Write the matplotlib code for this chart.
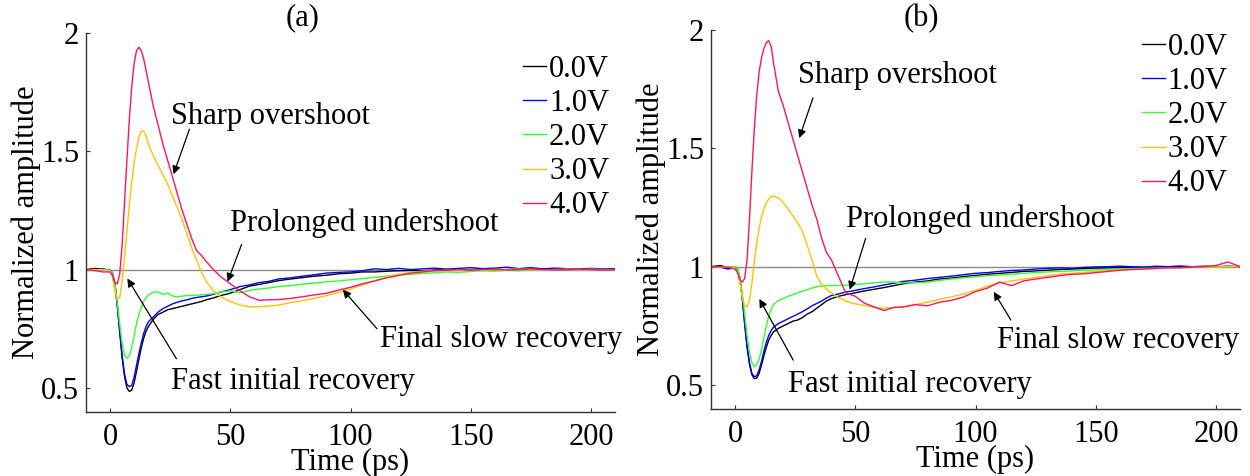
#!/usr/bin/env python3
"""Pump-probe transients at several bias voltages, panels (a) and (b)."""

import matplotlib
matplotlib.use("Agg")
import matplotlib.pyplot as plt

plt.rcParams["font.family"] = ["Liberation Serif", "DejaVu Serif"]
plt.rcParams["font.size"] = 22

# shared time grid (ps)
time_ps = [-10, -6, -3, 0, 1, 2, 3, 4, 5, 6, 7, 8, 9, 10, 11, 12, 13, 14, 15, 16,
           18, 20, 22, 24, 26, 28, 30, 32, 34, 36, 38, 40, 43, 46, 50, 54, 58, 62,
           66, 70, 75, 80, 85, 90, 95, 100, 105, 110, 115, 120, 125, 130, 135, 140,
           145, 150, 155, 160, 165, 170, 175, 180, 185, 190, 195, 200, 205, 210]

labels = ["0.0V", "1.0V", "2.0V", "3.0V", "4.0V"]
colors = ["#000000", "#0000ff", "#33ff33", "#ffc400", "#ff1466"]

# ---- panel (a) ----
a_0v = [1.0, 1.005, 1.0, 0.998, 0.985, 0.94, 0.85, 0.74, 0.63, 0.55, 0.50, 0.485, 0.49, 0.52,
        0.57, 0.62, 0.67, 0.71, 0.74, 0.76, 0.79, 0.81, 0.82, 0.83, 0.835, 0.84, 0.845, 0.85,
        0.855, 0.86, 0.865, 0.872, 0.88, 0.89, 0.90, 0.915, 0.93, 0.937, 0.945, 0.953, 0.96,
        0.966, 0.972, 0.976, 0.982, 0.985, 0.99, 0.99, 0.993, 0.995, 0.996, 0.995, 0.998, 1.0,
        0.997, 1.0, 1.002, 0.998, 1.0, 1.002, 1.0, 1.003, 1.0, 1.002, 1.0, 1.003, 1.0, 1.002]
a_1v = [1.0, 1.0, 1.003, 0.998, 0.985, 0.94, 0.85, 0.74, 0.64, 0.56, 0.515, 0.505, 0.51, 0.545,
        0.595, 0.645, 0.69, 0.73, 0.76, 0.78, 0.80, 0.82, 0.835, 0.845, 0.855, 0.862, 0.868,
        0.872, 0.878, 0.882, 0.885, 0.888, 0.895, 0.905, 0.915, 0.928, 0.935, 0.945, 0.95, 0.96,
        0.965, 0.972, 0.978, 0.985, 0.988, 0.99, 0.995, 1.003, 1.0, 1.005, 1.0, 1.003, 1.006,
        1.002, 1.005, 1.008, 1.004, 1.006, 1.01, 1.004, 1.008, 1.003, 1.006, 1.004, 1.002,
        1.005, 1.003, 1.004]
a_2v = [1.0, 0.998, 1.0, 0.998, 0.985, 0.94, 0.86, 0.77, 0.69, 0.64, 0.625, 0.635, 0.67, 0.72,
        0.77, 0.81, 0.84, 0.865, 0.88, 0.893, 0.905, 0.905, 0.895, 0.90, 0.888, 0.885, 0.888,
        0.89, 0.89, 0.892, 0.893, 0.895, 0.898, 0.905, 0.91, 0.902, 0.912, 0.918, 0.922, 0.928,
        0.932, 0.938, 0.943, 0.948, 0.952, 0.957, 0.962, 0.967, 0.972, 0.978, 0.98, 0.984,
        0.986, 0.99, 0.988, 0.992, 0.995, 0.993, 0.997, 0.995, 0.998, 1.0, 0.997, 1.0, 0.998,
        1.002, 1.0, 1.0]
a_3v = [1.0, 1.0, 0.998, 0.995, 0.97, 0.91, 0.875, 0.88, 0.95, 1.05, 1.16, 1.27, 1.37, 1.45,
        1.51, 1.56, 1.585, 1.585, 1.565, 1.53, 1.48, 1.44, 1.40, 1.36, 1.31, 1.26, 1.21, 1.15,
        1.09, 1.04, 0.99, 0.95, 0.91, 0.885, 0.865, 0.85, 0.842, 0.843, 0.846, 0.85, 0.86,
        0.868, 0.878, 0.89, 0.903, 0.918, 0.935, 0.952, 0.968, 0.98, 0.988, 0.993, 0.995,
        0.997, 0.995, 0.998, 1.0, 0.998, 1.0, 1.002, 1.0, 0.998, 1.0, 1.002, 1.0, 0.998, 1.0, 1.0]
a_4v = [1.0, 0.995, 0.99, 0.99, 0.975, 0.945, 0.94, 0.98, 1.10, 1.28, 1.46, 1.63, 1.77, 1.87,
        1.925, 1.94, 1.925, 1.89, 1.84, 1.79, 1.69, 1.61, 1.53, 1.46, 1.39, 1.32, 1.25, 1.19,
        1.13, 1.08, 1.06, 1.034, 1.0, 0.97, 0.94, 0.91, 0.885, 0.87, 0.872, 0.873, 0.878,
        0.885, 0.893, 0.90, 0.913, 0.925, 0.94, 0.952, 0.965, 0.975, 0.985, 0.99, 0.995, 0.997,
        1.0, 0.997, 1.0, 1.002, 0.998, 1.0, 1.003, 1.0, 0.998, 1.0, 1.002, 1.0, 0.998, 1.0]

# ---- panel (b) ----
b_0v = [1.0, 1.005, 0.995, 0.998, 0.99, 0.95, 0.87, 0.76, 0.66, 0.59, 0.545, 0.528, 0.53, 0.55,
        0.585, 0.625, 0.66, 0.69, 0.71, 0.725, 0.74, 0.75, 0.76, 0.77, 0.775, 0.785, 0.80,
        0.81, 0.825, 0.84, 0.855, 0.865, 0.875, 0.882, 0.89, 0.898, 0.905, 0.912, 0.92, 0.928,
        0.935, 0.94, 0.948, 0.952, 0.958, 0.963, 0.968, 0.972, 0.976, 0.98, 0.982, 0.985,
        0.988, 0.99, 0.992, 0.994, 0.995, 0.996, 0.997, 0.998, 0.997, 0.999, 1.0, 0.998, 1.0,
        1.0, 1.0, 1.0]
b_1v = [1.0, 0.998, 0.99, 0.995, 0.99, 0.95, 0.87, 0.76, 0.665, 0.595, 0.55, 0.536, 0.54,
        0.565, 0.60, 0.645, 0.68, 0.71, 0.73, 0.745, 0.76, 0.77, 0.78, 0.79, 0.80, 0.81, 0.822,
        0.835, 0.845, 0.855, 0.868, 0.878, 0.885, 0.893, 0.90, 0.908, 0.915, 0.923, 0.93,
        0.938, 0.943, 0.95, 0.955, 0.96, 0.966, 0.972, 0.975, 0.98, 0.984, 0.986, 0.99, 0.993,
        0.995, 0.993, 0.997, 0.999, 1.0, 1.002, 1.0, 0.998, 1.002, 1.0, 1.003, 1.0, 1.002, 1.0,
        1.002, 1.0]
b_2v = [1.0, 0.998, 1.0, 1.0, 0.995, 0.96, 0.89, 0.80, 0.71, 0.64, 0.595, 0.578, 0.585, 0.61,
        0.65, 0.70, 0.75, 0.79, 0.82, 0.84, 0.858, 0.865, 0.875, 0.882, 0.89, 0.897, 0.903,
        0.91, 0.915, 0.918, 0.92, 0.92, 0.921, 0.922, 0.925, 0.928, 0.932, 0.936, 0.935, 0.932,
        0.932, 0.935, 0.942, 0.948, 0.953, 0.958, 0.962, 0.965, 0.968, 0.972, 0.975, 0.978,
        0.98, 0.982, 0.985, 0.986, 0.988, 0.99, 0.992, 0.993, 0.994, 0.995, 0.996, 0.997, 0.998,
        0.998, 0.999, 1.0]
b_3v = [1.0, 1.0, 0.998, 0.995, 0.98, 0.93, 0.87, 0.835, 0.83, 0.86, 0.93, 1.02, 1.10, 1.16,
        1.21, 1.245, 1.27, 1.285, 1.295, 1.298, 1.29, 1.27, 1.245, 1.215, 1.185, 1.15, 1.09,
        1.03, 0.96, 0.925, 0.905, 0.89, 0.87, 0.855, 0.843, 0.835, 0.828, 0.825, 0.828, 0.832,
        0.84, 0.85, 0.862, 0.873, 0.885, 0.90, 0.918, 0.932, 0.94, 0.948, 0.955, 0.962, 0.968,
        0.972, 0.976, 0.98, 0.983, 0.986, 0.988, 0.99, 0.992, 0.994, 0.995, 0.997, 0.998,
        0.999, 1.0, 1.0]
b_4v = [1.0, 1.0, 0.998, 0.99, 0.975, 0.945, 0.935, 0.95, 1.03, 1.20, 1.40, 1.58, 1.72, 1.82,
        1.88, 1.92, 1.945, 1.953, 1.93, 1.86, 1.74, 1.68, 1.61, 1.54, 1.47, 1.40, 1.33, 1.26,
        1.20, 1.12, 1.06, 1.03, 0.96, 0.89, 0.875, 0.845, 0.83, 0.815, 0.828, 0.83, 0.84, 0.835,
        0.85, 0.858, 0.872, 0.895, 0.91, 0.935, 0.92, 0.94, 0.948, 0.955, 0.962, 0.968, 0.97,
        0.975, 0.98, 0.985, 0.988, 0.99, 0.993, 0.995, 0.996, 0.998, 1.0, 1.005, 1.02, 1.0]

panels = [
    {
        "rect": [0.0688, 0.1355, 0.4232, 0.7952],
        "title": "(a)",
        "title_xy": (0.2424, 0.962),
        "legend_anchor": (1.012, 0.975),
        "series": [a_0v, a_1v, a_2v, a_3v, a_4v],
        # (text, text xy, arrow tail xy, arrow head xy)
        "notes": [
            ("Sharp overshoot", (25.5, 1.648), (33.0, 1.593), (26.4, 1.403)),
            ("Prolonged undershoot", (49.7, 1.195), (54.7, 1.106), (48.9, 0.949)),
            ("Final slow recovery", (112.2, 0.703), (111.0, 0.75), (96.8, 0.915)),
            ("Fast initial recovery", (25.5, 0.525), (27.6, 0.623), (7.2, 0.962)),
        ],
    },
    {
        "rect": [0.5688, 0.1408, 0.4232, 0.7972],
        "title": "(b)",
        "title_xy": (0.7368, 0.962),
        "legend_anchor": (1.0, 1.024),
        "series": [b_0v, b_1v, b_2v, b_3v, b_4v],
        "notes": [
            ("Sharp overshoot", (26.2, 1.805), (32.4, 1.712), (26.7, 1.542)),
            ("Prolonged undershoot", (46.1, 1.20), (54.3, 1.119), (47.7, 0.903)),
            ("Final slow recovery", (108.9, 0.69), (114.7, 0.775), (107.6, 0.894)),
            ("Fast initial recovery", (22.1, 0.504), (24.2, 0.606), (10.1, 0.864)),
        ],
    },
]

fig = plt.figure(figsize=(12.5, 4.76), dpi=100)

for p in panels:
    ax = fig.add_axes(p["rect"])
    ax.axhline(1.0, color="#8c8c8c", lw=1.0, zorder=1)
    for vals, lab, col in zip(p["series"], labels, colors):
        ax.plot(time_ps, vals, color=col, lw=1.0, label=lab, zorder=2)

    for text, txy, tail, head in p["notes"]:
        ax.text(txy[0], txy[1], text, ha="left", va="center")
        ax.annotate("", xy=head, xytext=tail,
                    arrowprops=dict(arrowstyle="-|>", color="k", lw=0.9,
                                    mutation_scale=12, shrinkA=0, shrinkB=0))

    ax.set_xlim(-10, 210)
    ax.set_ylim(0.4, 2.0)
    ax.set_xticks([0, 50, 100, 150, 200])
    ax.set_yticks([0.5, 1, 1.5, 2])
    ax.set_yticklabels(["0.5", "1", "1.5", "2"])
    ax.tick_params(direction="in", length=3, width=0.8, color="#333333")
    ax.tick_params(axis="x", pad=8)
    ax.tick_params(axis="y", pad=5)
    for side in ("top", "right"):
        ax.spines[side].set_visible(False)
    for side in ("left", "bottom"):
        ax.spines[side].set_color("#333333")
        ax.spines[side].set_linewidth(1.0)

    ax.set_xlabel("Time (ps)", labelpad=-3)
    ax.set_ylabel("Normalized amplitude", labelpad=0)
    fig.text(p["title_xy"][0], p["title_xy"][1], p["title"], ha="center", va="center")
    ax.legend(loc="upper right", bbox_to_anchor=p["legend_anchor"], frameon=False,
              handlelength=0.75, handletextpad=0.1, labelspacing=0.17,
              borderaxespad=0.0)

fig.savefig("out.png", dpi=100)
